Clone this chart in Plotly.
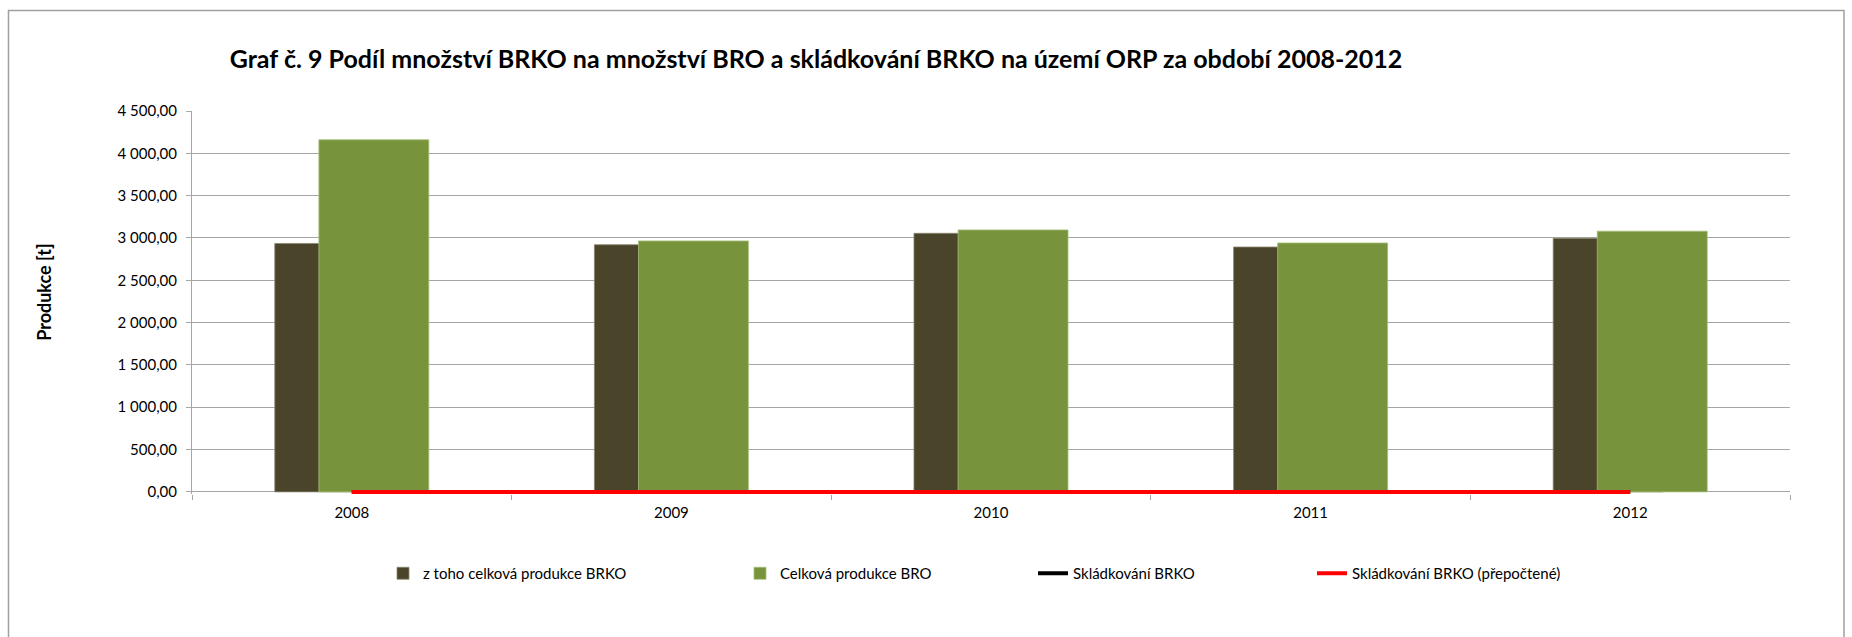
import plotly.graph_objects as go

# Data
years = ["2008", "2009", "2010", "2011", "2012"]
brko_total = [2935, 2920, 3055, 2893, 2996]        # z toho celková produkce BRKO
bro_total = [4160, 2965, 3095, 2941, 3080]         # Celková produkce BRO
landfill_brko = [0, 0, 0, 0, 0]                     # Skládkování BRKO
landfill_brko_recalc = [0, 0, 0, 0, 0]              # Skládkování BRKO (přepočtené)

title_text = "Graf č. 9 Podíl množství BRKO na množství BRO a skládkování BRKO na území ORP za období 2008-2012"
y_title = "Produkce [t]"
y_ticks = [0, 500, 1000, 1500, 2000, 2500, 3000, 3500, 4000, 4500]

FONT = "Lato, 'Open Sans', sans-serif"
DARK = "#4A452A"
GREEN = "#77933C"
GRID = "#A6A6A6"

W, H = 1852, 637
# plot area: x 192..1790, value 4500 at y=111, value 0 at y=492.3;
# the range reaches a little below zero so the thick zero-level lines are not cut in half
Y_MIN, Y_MAX = -25, 4500
ZERO_PX, TOP_PX = 492.3, 111.0
px_per_unit = (ZERO_PX - TOP_PX) / Y_MAX
bottom_px = ZERO_PX - Y_MIN * px_per_unit
L, R, T, B = 192, 62, TOP_PX, H - bottom_px
pw, ph = W - L - R, H - T - B


def px_x(x):
    return (x - L) / pw


def px_y(y):
    return (H - B - y) / ph


fig = go.Figure()

fig.add_trace(go.Bar(
    x=years, y=brko_total, name="z toho celková produkce BRKO",
    marker=dict(color=DARK, line=dict(color="#8A8670", width=0.8)),
    width=0.344, offset=-0.241, legend="legend",
))
fig.add_trace(go.Bar(
    x=years, y=bro_total, name="Celková produkce BRO",
    marker=dict(color=GREEN, line=dict(color="#A6C07A", width=0.8)),
    width=0.344, offset=-0.103, legend="legend2",
))
fig.add_trace(go.Scatter(
    x=years, y=landfill_brko, name="Skládkování BRKO", mode="lines",
    line=dict(color="#000000", width=4), legend="legend3",
))
fig.add_trace(go.Scatter(
    x=years, y=landfill_brko_recalc, name="Skládkování BRKO (přepočtené)", mode="lines",
    line=dict(color="#FF0000", width=4), legend="legend4",
))

legend_common = dict(
    orientation="h", yanchor="middle", xanchor="left",
    font=dict(family=FONT, size=15, color="#000000"),
    bgcolor="rgba(0,0,0,0)", borderwidth=0,
    itemclick=False, itemdoubleclick=False,
)
leg_y = px_y(574)
leg_left = [383, 740, 1033, 1312]
leg_x = [px_x(v) for v in leg_left]

fig.update_layout(
    width=W, height=H,
    margin=dict(l=L, r=R, t=T, b=B, autoexpand=False),
    paper_bgcolor="white", plot_bgcolor="white",
    barmode="overlay",
    separators=", ",
    font=dict(family=FONT, size=15, color="#000000"),
    title=dict(
        text=title_text, x=816 / W, xref="container", xanchor="center",
        y=1 - 59 / H, yref="container", yanchor="middle",
        font=dict(family=FONT, size=25, color="#000000", weight="bold"),
    ),
    xaxis=dict(
        type="category", range=[-0.5, 4.5],
        showgrid=False, showline=False,
        ticks="outside", tickson="boundaries", ticklen=5, tickcolor=GRID,
        ticklabelstandoff=8, layer="below traces",
        tickfont=dict(family=FONT, size=15, color="#000000"),
        zeroline=False,
    ),
    yaxis=dict(
        range=[Y_MIN, Y_MAX], tickvals=y_ticks, tickformat=",.2f",
        showgrid=True, gridcolor=GRID, gridwidth=1,
        showline=True, linecolor=GRID, linewidth=1,
        zeroline=True, zerolinecolor=GRID, zerolinewidth=1,
        ticks="outside", ticklen=5, tickcolor=GRID,
        ticklabelstandoff=6, layer="below traces",
        tickfont=dict(family=FONT, size=15, color="#000000"),
    ),
    legend=dict(x=leg_x[0], y=leg_y, **legend_common),
    legend2=dict(x=leg_x[1], y=leg_y, **legend_common),
    legend3=dict(x=leg_x[2], y=leg_y, **legend_common),
    legend4=dict(x=leg_x[3], y=leg_y, **legend_common),
    annotations=[dict(
        text=y_title, textangle=-90, showarrow=False,
        xref="paper", yref="paper", x=px_x(44), y=px_y(293),
        xanchor="center", yanchor="middle",
        font=dict(family=FONT, size=18, color="#000000", weight="bold"),
    )],
    shapes=[dict(
        type="rect", xref="paper", yref="paper", layer="below",
        x0=px_x(8.5), x1=px_x(1844), y0=px_y(660), y1=px_y(10.5),
        line=dict(color="#A0A0A0", width=1.5), fillcolor="rgba(0,0,0,0)",
    )],
    showlegend=True,
)

fig.write_html("out.html")
